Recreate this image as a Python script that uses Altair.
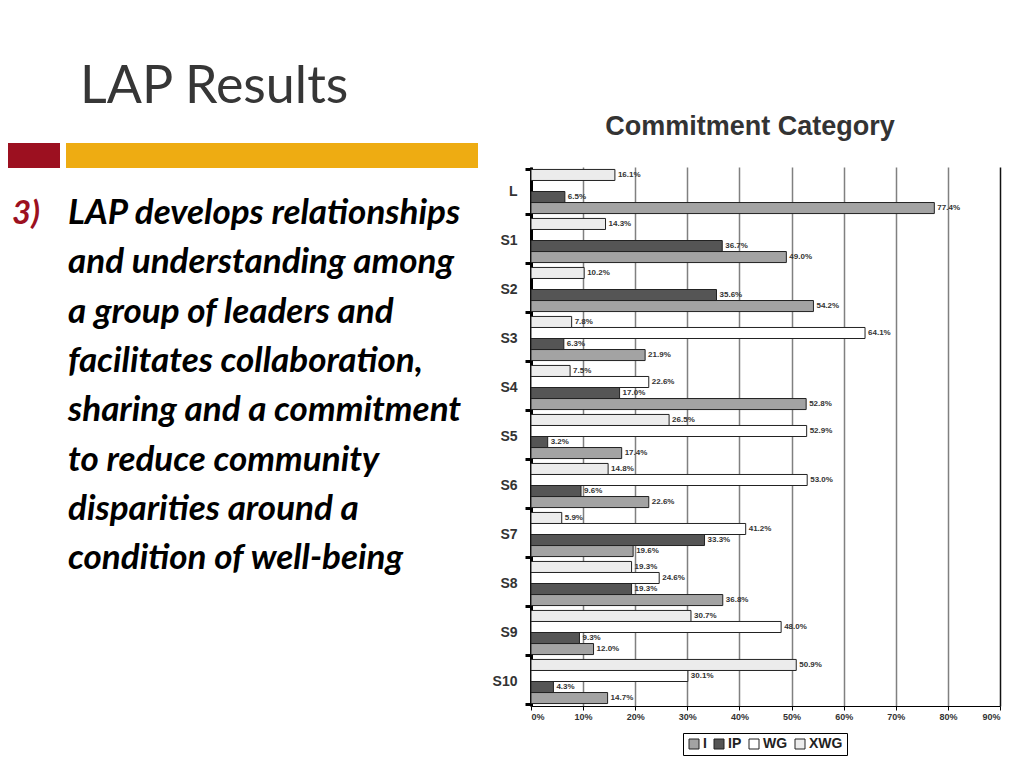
import altair as alt
import pandas as pd

cats = ["L", "S1", "S2", "S3", "S4", "S5", "S6", "S7", "S8", "S9", "S10"]
I_vals = [77.4, 49.0, 54.2, 21.9, 52.8, 17.4, 22.6, 19.6, 36.8, 12.0, 14.7]
IP_vals = [6.5, 36.7, 35.6, 6.3, 17.0, 3.2, 9.6, 33.3, 19.3, 9.3, 4.3]
WG_vals = [None, None, None, 64.1, 22.6, 52.9, 53.0, 41.2, 24.6, 48.0, 30.1]
XWG_vals = [16.1, 14.3, 10.2, 7.8, 7.5, 26.5, 14.8, 5.9, 19.3, 30.7, 50.9]

legend_order = ["I", "IP", "WG", "XWG"]
bar_order = ["XWG", "WG", "IP", "I"]
bar_colors = ["#a3a3a3", "#555555", "#ffffff", "#ececec"]
x_ticks = [0, 10, 20, 30, 40, 50, 60, 70, 80, 90]

slide_title = "LAP Results"
chart_title = "Commitment Category"
bullet = "3)"
body_lines = [
    "LAP develops relationships",
    "and understanding among",
    "a group of leaders and",
    "facilitates collaboration,",
    "sharing and a commitment",
    "to reduce community",
    "disparities around a",
    "condition of well-being",
]

series = {"I": I_vals, "IP": IP_vals, "WG": WG_vals, "XWG": XWG_vals}
rows = []
for i, c in enumerate(cats):
    for s, arr in series.items():
        v = arr[i]
        if v is not None:
            rows.append({"cat": c, "s": s, "v": v, "lab": f"{v:.1f}%"})
df = pd.DataFrame(rows)
one = pd.DataFrame({"k": [0]})

FONT = "Liberation Sans"

x_enc = alt.X(
    "v:Q",
    scale=alt.Scale(domain=[0, 90], nice=False, zero=True),
    axis=alt.Axis(
        values=x_ticks, labelExpr="datum.value + '%'", title=None,
        grid=True,
        gridColor={"condition": {"test": "datum.value === 90", "value": "#111111"}, "value": "#808080"},
        gridWidth=1.5,
        domainColor="#000000", domainWidth=1, tickColor="#000000", tickSize=4,
        labelFont=FONT, labelFontWeight="bold", labelFontSize=9,
        labelColor="#333333", labelPadding=2,
    ),
)
y_enc = alt.Y(
    "cat:N", sort=cats,
    scale=alt.Scale(paddingInner=0.1, paddingOuter=0.05),
    axis=alt.Axis(
        title=None, tickBand="extent", tickWidth=3, tickSize=6,
        tickColor="#000000", domainColor="#000000", domainWidth=3,
        labelFont=FONT, labelFontSize=14, labelFontWeight="bold",
        labelColor="#333333", labelPadding=8,
    ),
)
yoff_enc = alt.YOffset(
    "s:N", sort=bar_order,
    scale=alt.Scale(domain=bar_order, paddingInner=0, paddingOuter=0),
)

bars = alt.Chart(df).mark_bar(stroke="#222222", strokeWidth=1).encode(
    x=x_enc, y=y_enc, yOffset=yoff_enc,
    color=alt.Color(
        "s:N",
        scale=alt.Scale(domain=legend_order, range=bar_colors),
        legend=alt.Legend(
            title=None, orient="none", legendX=152, legendY=566,
            direction="horizontal", strokeColor="#000000", fillColor="#ffffff",
            padding=4, symbolType="square", symbolSize=100,
            symbolStrokeColor="#222222", symbolStrokeWidth=1,
            labelFont=FONT, labelFontSize=14, labelFontWeight="bold",
            labelColor="#222222", columnPadding=5, labelOffset=2,
        ),
    ),
)

labels = alt.Chart(df).mark_text(
    align="left", baseline="middle", dx=3, font=FONT, fontSize=8,
    fontWeight="bold", color="#333333",
).encode(x=x_enc, y=y_enc, yOffset=yoff_enc, text="lab:N")

red_rect = alt.Chart(one).mark_rect(color="#9c1020").encode(
    x=alt.value(-523), x2=alt.value(-471), y=alt.value(-24), y2=alt.value(1)
)
gold_rect = alt.Chart(one).mark_rect(color="#eeac12").encode(
    x=alt.value(-465), x2=alt.value(-53), y=alt.value(-24), y2=alt.value(1)
)
title_txt = alt.Chart(one).mark_text(
    align="left", baseline="alphabetic", font="Lato", fontSize=52,
    color="#363636",
).encode(x=alt.value(-451), y=alt.value(-64), text=alt.value(slide_title))

bullet_txt = alt.Chart(one).mark_text(
    align="left", baseline="alphabetic", font="Lato", fontSize=33,
    fontWeight="bold", fontStyle="italic", color="#9c1020",
).encode(x=alt.value(-519), y=alt.value(57), text=alt.value(bullet))

body_txt = alt.Chart(one).mark_text(
    align="left", baseline="alphabetic", font="Lato", fontSize=35,
    fontWeight="bold", fontStyle="italic", color="#000000",
    lineHeight=49.3, limit=412, ellipsis="",
).encode(x=alt.value(-463), y=alt.value(57), text=alt.value(body_lines))

ctitle_txt = alt.Chart(one).mark_text(
    align="center", baseline="alphabetic", font=FONT, fontSize=27,
    fontWeight="bold", color="#333333",
).encode(x=alt.value(219), y=alt.value(-32), text=alt.value(chart_title))

chart = alt.layer(
    red_rect, gold_rect, title_txt, bullet_txt, body_txt, ctitle_txt, bars, labels
).properties(
    width=469, height=539,
    autosize=alt.AutoSizeParams(type="none"),
    padding={"left": 523, "top": 159, "right": 16, "bottom": 54},
    background="#ffffff",
).configure_view(stroke=None)

chart.save("out.html", embed_options={"renderer": "svg", "actions": False})
